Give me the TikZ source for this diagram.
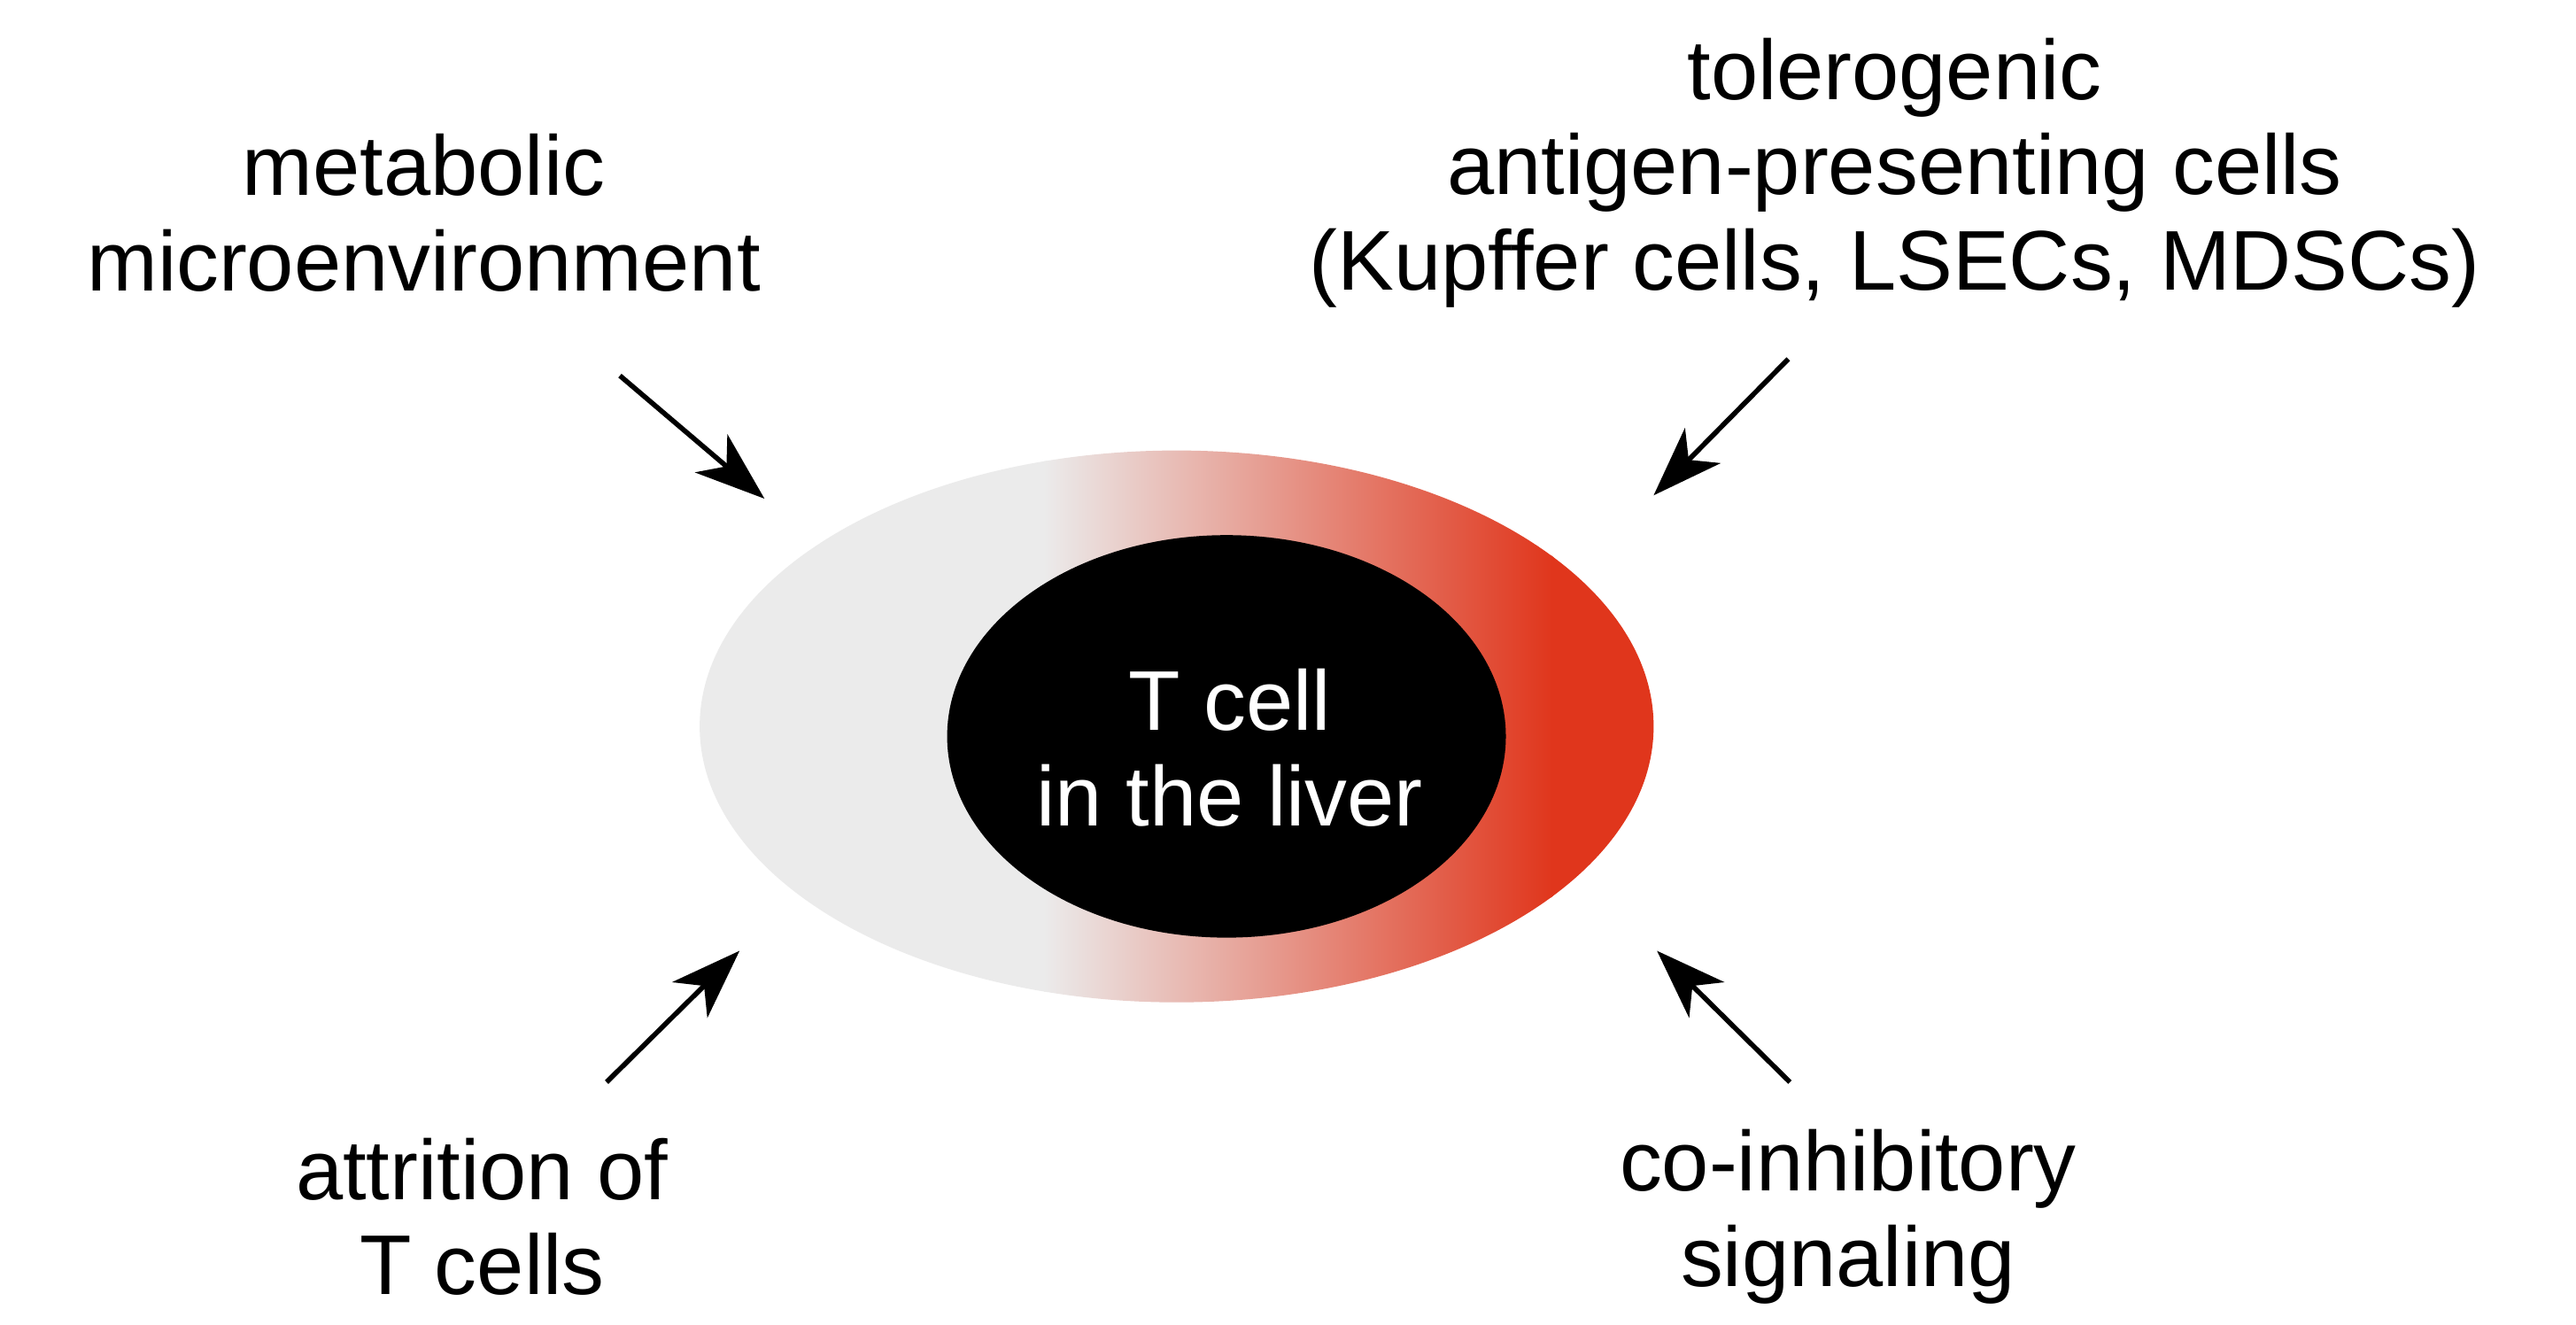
\documentclass[tikz,border=0pt]{standalone}
\usepackage{fontspec}
\setmainfont{Liberation Sans}
\usetikzlibrary{arrows.meta,shapes.geometric}
\definecolor{lgrey}{HTML}{EBEBEB}
\definecolor{cred}{HTML}{E0361C}
\begin{document}
\begin{tikzpicture}[x=0.01cm,y=-0.01cm,
  lbl/.style={align=center,font=\fontsize{14.5}{16.3}\selectfont},
  arr/.style={-{Stealth[length=0.42cm,width=0.3cm,inset=0.12cm]},line width=0.85pt}]
\useasboundingbox (0,0) rectangle (1550,797);
\begin{scope}
\clip (708,437) ellipse [x radius=287,y radius=166];
\fill[lgrey] (400,250) rectangle (630,620);
\shade[left color=lgrey,right color=cred] (628,250) rectangle (935,620);
\fill[cred] (933,250) rectangle (1000,620);
\end{scope}
\node[ellipse,fill=black,minimum width=3.36cm,minimum height=2.42cm,inner sep=0] (t) at (738,443) {};
\node[lbl,text=white] (tl) at (740,450) {T cell\\in the liver};
\node[lbl] (m) at (255,128) {metabolic\\microenvironment};
\node[lbl] (a) at (1140,104) {tolerogenic\\antigen-presenting cells\\(Kupffer cells, LSECs, MDSCs)};
\node[lbl] (at) at (290,732) {attrition of\\T cells};
\node[lbl] (c) at (1112,732) {co-inhibitory\\signaling};
\coordinate (m1) at (373,226); \coordinate (m2) at (460,300);
\coordinate (a1) at (1076,216); \coordinate (a2) at (995,298);
\coordinate (t1) at (365,651); \coordinate (t2) at (445,572);
\coordinate (c1) at (1077,651); \coordinate (c2) at (997,572);
\draw[arr] (m1) -- (m2);
\draw[arr] (a1) -- (a2);
\draw[arr] (t1) -- (t2);
\draw[arr] (c1) -- (c2);
\end{tikzpicture}
\end{document}
